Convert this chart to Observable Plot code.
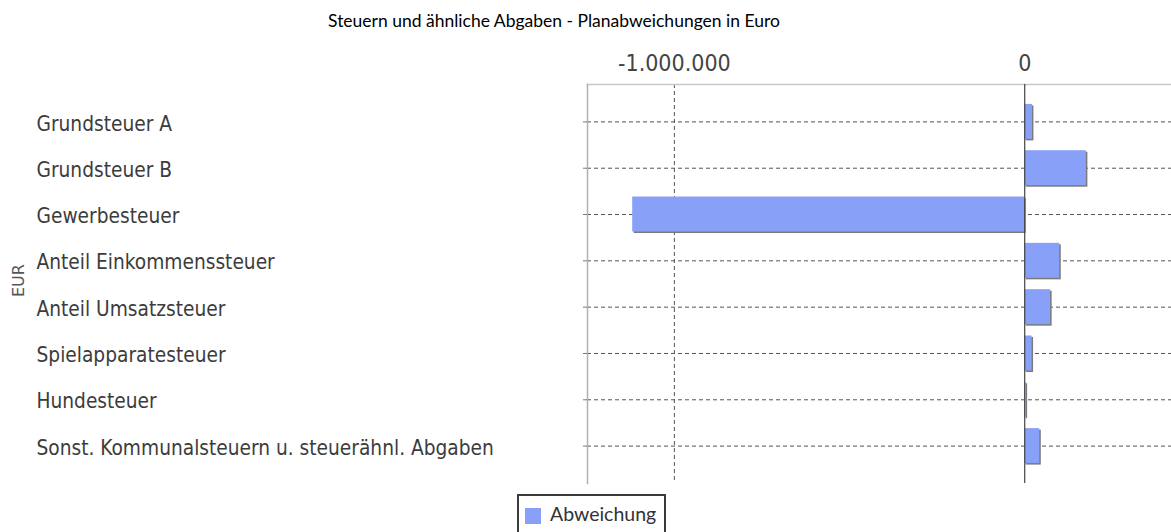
<!DOCTYPE html>
<html><head><meta charset="utf-8">
<script src="https://cdn.jsdelivr.net/npm/d3@7"></script>
<script src="https://cdn.jsdelivr.net/npm/@observablehq/plot@0.6"></script>
<style>
body{margin:0;background:#fff;}
#wrap{position:relative;width:1171px;height:532px;overflow:hidden;background:#fff;}
#chart{position:absolute;left:0;top:0;}
#title{position:absolute;left:0;width:1108px;top:10px;text-align:center;font-family:Lato,"Open Sans",sans-serif;font-size:17.5px;color:#000;white-space:nowrap;}
#legend{position:absolute;left:517px;top:494px;width:145px;height:44px;border:2px solid #3a3a3a;box-sizing:content-box;font-family:Lato,"Open Sans",sans-serif;font-size:19.5px;color:#333;}
#legend .sw{position:absolute;left:6px;top:12px;width:16px;height:16px;}
#legend .lb{position:absolute;left:31px;top:6px;white-space:nowrap;}
</style></head><body>
<div id="wrap">
  <div id="chart"></div>
  <div id="title"></div>
  <div id="legend"><span class="sw"></span><span class="lb"></span></div>
</div>
<script>
const title = "Steuern und ähnliche Abgaben - Planabweichungen in Euro";
const categories = [
  "Grundsteuer A",
  "Grundsteuer B",
  "Gewerbesteuer",
  "Anteil Einkommenssteuer",
  "Anteil Umsatzsteuer",
  "Spielapparatesteuer",
  "Hundesteuer",
  "Sonst. Kommunalsteuern u. steuerähnl. Abgaben"
];
const values = [22000, 176000, -1119000, 100000, 74000, 21000, 4000, 43000];
const xTicks = [-1000000, 0];
const xTickLabels = ["-1.000.000", "0"];
const xDomain = [-1248000, 419000];
const seriesName = "Abweichung";
const yAxisLabel = "EUR";

const barColor = "#88a0f8";
const data = categories.map((c, i) => ({cat: c, value: values[i]}));
const labelFont = '"DejaVu Sans Condensed", "DejaVu Sans", sans-serif';

document.getElementById("title").textContent = title;
document.querySelector("#legend .sw").style.background = barColor;
document.querySelector("#legend .lb").textContent = seriesName;

const chart = Plot.plot({
  width: 1171,
  height: 532,
  marginLeft: 587,
  marginRight: 0,
  marginTop: 84,
  marginBottom: 49,
  style: {background: "transparent", fontFamily: labelFont},
  x: {domain: xDomain, axis: null},
  y: {domain: categories, paddingInner: 0.245, paddingOuter: 0.43, round: false, axis: null},
  marks: [
    Plot.ruleY(categories, {y: d => d, stroke: "#555", strokeWidth: 1, strokeDasharray: "4,3"}),
    Plot.ruleX([xTicks[0]], {stroke: "#555", strokeWidth: 1, strokeDasharray: "4,3"}),
    Plot.frame({anchor: "top", stroke: "#c8c8c8", strokeWidth: 1.5}),
    Plot.frame({anchor: "left", stroke: "#b0b0b0", strokeWidth: 1.5}),
    Plot.barX(data, {x: "value", y: "cat", fill: "#7a7a7a", dx: 1.5, dy: 1.5}),
    Plot.barX(data, {x: "value", y: "cat", fill: barColor}),
    Plot.ruleX([0], {stroke: "#444", strokeWidth: 1.2}),
    Plot.axisX({
      anchor: "top", ticks: xTicks, tickSize: 0, tickPadding: 14,
      tickFormat: d => xTickLabels[xTicks.indexOf(d)],
      fontSize: 23, fill: "#444", label: null
    }),
    Plot.axisY({
      anchor: "left", tickSize: 4, tickFormat: () => "", stroke: "#777", label: null
    }),
    Plot.axisY({
      anchor: "left", tickSize: 0, tickPadding: 4, textAnchor: "start", dx: -547, dy: 2,
      fontSize: 20.7, fill: "#3c3c3c", label: null
    }),
    Plot.text([yAxisLabel], {
      frameAnchor: "left", dx: -569, dy: 13, rotate: -90, fontSize: 16, fill: "#555",
      fontFamily: "DejaVu Sans", text: d => d
    })
  ]
});
document.getElementById("chart").appendChild(chart);
</script>
</body></html>
